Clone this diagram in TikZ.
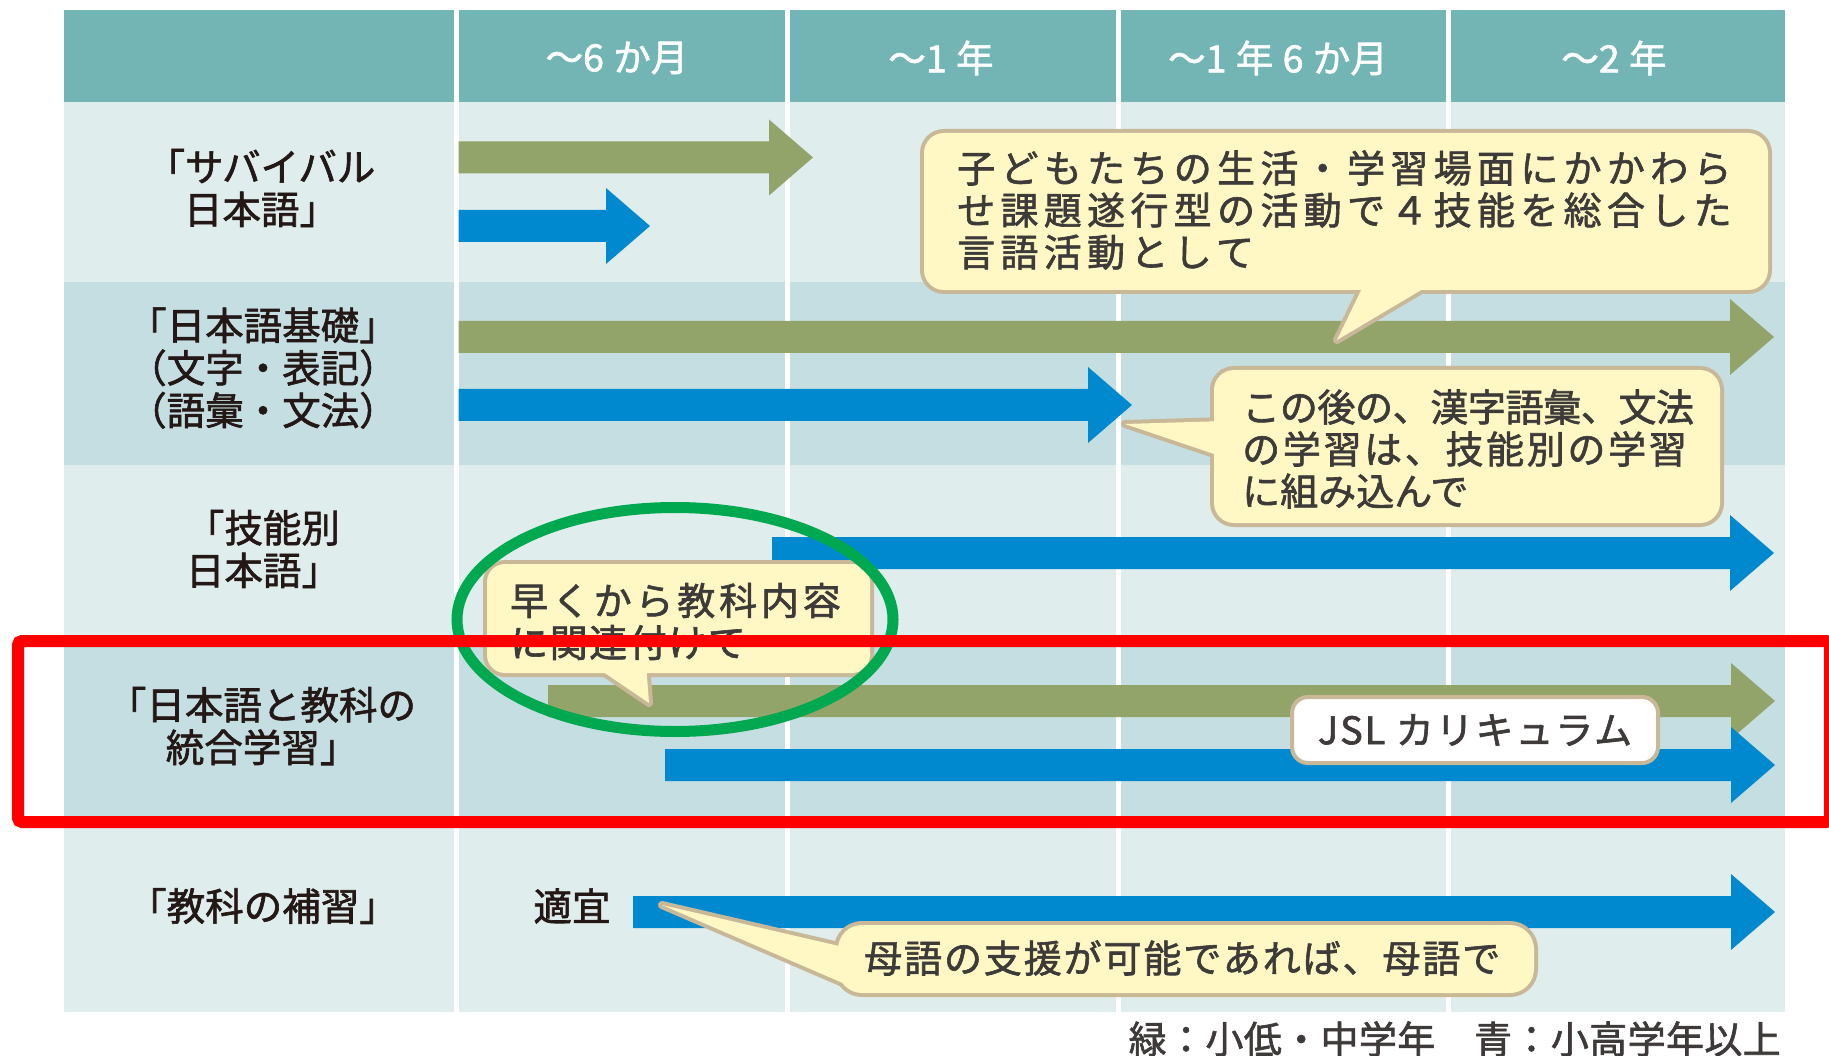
\documentclass[tikz,border=0pt]{standalone}
\usepackage{fontspec}
\setmainfont{Noto Sans CJK JP}[FakeBold=1.6]
\definecolor{hdrteal}{HTML}{73B5B5}
\definecolor{rowlight}{HTML}{DFEDED}
\definecolor{rowdark}{HTML}{C4DEE1}
\definecolor{arrgreen}{HTML}{93A46A}
\definecolor{arrblue}{HTML}{0089CF}
\definecolor{cyellow}{HTML}{FFF8C4}
\definecolor{cline}{HTML}{C8B898}
\definecolor{labtext}{HTML}{231815}
\definecolor{ctextc}{HTML}{3E3A39}
\definecolor{ellgreen}{HTML}{00A84F}
\definecolor{boxred}{HTML}{FF0000}
\newcommand\fatarrow[4]{\fill[#1] (#2,#4-16) -- (#3-44,#4-16) -- (#3-44,#4-38) -- (#3,#4) -- (#3-44,#4+38) -- (#3-44,#4+16) -- (#2,#4+16) -- cycle;}
\newcommand\lsp[1]{\addfontfeature{LetterSpace=#1}}
\begin{document}
\begin{tikzpicture}[x=1pt,y=-1pt,
  hdr/.style={text=white,font=\fontsize{37.5}{42}\selectfont,inner sep=0pt},
  rowlab/.style={text=labtext,align=center,inner sep=0pt,font=\fontsize{38.5}{42.5}\selectfont},
  ctext/.style={text=ctextc,align=left,inner sep=0pt,anchor=west,font=\fontsize{38}{42}\selectfont},
  cbd/.style={draw=cline,line width=8pt,line join=round},
  cfill/.style={fill=cyellow},
  divider/.style={draw=white,line width=5pt},
]
\useasboundingbox (0,0) rectangle (1829,1056);
\fill[white] (0,0) rectangle (1829,1056);
% table background
\fill[hdrteal] (64,10) rectangle (1785,102);
\fill[rowlight] (64,102) rectangle (1785,282);
\fill[rowdark] (64,282) rectangle (1785,465);
\fill[rowlight] (64,465) rectangle (1785,645);
\fill[rowdark] (64,645) rectangle (1785,817);
\fill[rowlight] (64,817) rectangle (1785,1012);
\foreach \x in {456,787,1118,1448} \draw[divider] (\x,10) -- (\x,1012);
% header
\node[hdr] (h1) at (617,58) {～6\hspace{.25em}か月};
\node[hdr] (h2) at (941,58) {～1\hspace{.25em}年};
\node[hdr] (h3) at (1278,58) {～1\hspace{.25em}年\hspace{.25em}6\hspace{.25em}か月};
\node[hdr] (h4) at (1614,58) {～2\hspace{.25em}年};
% row labels
\node[rowlab] (r1) at (261,188) {「サバイバル\\日本語」};
\node[rowlab] (r2) at (263,368) {「日本語基礎」\\（文字・表記）\\（語彙・文法）};
\node[rowlab] (r3) at (263,549) {「技能別\\日本語」};
\node[rowlab] (r4) at (262,726) {「日本語と教科の\\統合学習」};
\node[rowlab] (r5) at (263,906) {「教科の補習」};
\node[rowlab] (tekigi) at (572,906) {適宜};
% arrows
\fatarrow{arrgreen}{458.5}{813}{157.5}
\fatarrow{arrblue}{458.5}{650}{226}
\fatarrow{arrgreen}{458.5}{1774}{337}
\fatarrow{arrblue}{458.5}{1132}{405}
\fatarrow{arrblue}{772}{1774}{553}
\fatarrow{arrgreen}{548}{1775}{701}
\fatarrow{arrblue}{665}{1775}{765}
\fatarrow{arrblue}{633}{1775}{912}
% callout 1
\draw[cbd,rounded corners=20pt] (924,133) rectangle (1768,290);
\draw[cbd] (1366,280) -- (1337,340) -- (1438,280) -- cycle;
\fill[cfill,rounded corners=20pt] (924,133) rectangle (1768,290);
\fill[cfill] (1366,280) -- (1337,340) -- (1438,280) -- cycle;
% callout 2
\draw[cbd,rounded corners=20pt] (1214,370) rectangle (1720,523);
\draw[cbd] (1226,421) -- (1125,424) -- (1226,458) -- cycle;
\fill[cfill,rounded corners=20pt] (1214,370) rectangle (1720,523);
\fill[cfill] (1226,421) -- (1125,424) -- (1226,458) -- cycle;
% callout 3
\draw[cbd,rounded corners=18pt] (487,564) rectangle (870,673);
\draw[cbd] (590,663) -- (649,703) -- (646,663) -- cycle;
\fill[cfill,rounded corners=18pt] (487,564) rectangle (870,673);
\fill[cfill] (590,663) -- (649,703) -- (646,663) -- cycle;
% callout 4
\draw[cbd,rounded corners=24pt] (838,925) rectangle (1534,993);
\draw[cbd] (852,949) -- (662,905) -- (852,987) -- cycle;
\fill[cfill,rounded corners=24pt] (838,925) rectangle (1534,993);
\fill[cfill] (852,949) -- (662,905) -- (852,987) -- cycle;
% callout texts
\node[ctext] (t1) at (957,210) {{\lsp{14}子どもたちの生活・学習場面にかかわら}\\{\lsp{14}せ課題遂行型の活動で４技能を総合した}\\{\lsp{14}言語活動として}};
\node[ctext] (t2) at (1242,449) {{\lsp{-1}この後の、漢字語彙、文法}\\{\lsp{7}の学習は、技能別の学習}\\{\lsp{0}に組み込んで}};
\node[ctext] (t3) at (510,621.5) {{\lsp{10}早くから教科内容}\\{\lsp{4}に関連付けて}};
\node[ctext] (t4) at (864,958) {\lsp{5}母語の支援が可能であれば、母語で};
% JSL label
\node[draw=cline,line width=4pt,fill=white,rounded corners=16pt,minimum width=366pt,minimum height=66pt,inner sep=0pt,text=ctextc,font=\fontsize{38}{42}\selectfont] (jsl) at (1475,730) {\lsp{5}JSL カリキュラム};
% legend
\node[anchor=east,inner sep=0pt,text=ctextc,font=\fontsize{38}{42}\selectfont] (legend) at (1781,1039) {\lsp{1}緑：小低・中学年　青：小高学年以上};
% highlights
\draw[ellgreen,line width=11pt] (675,619.5) ellipse [x radius=218, y radius=112];
\draw[boxred,line width=12pt,rounded corners=4pt] (18,641) rectangle (1830,822);
\end{tikzpicture}
\end{document}
